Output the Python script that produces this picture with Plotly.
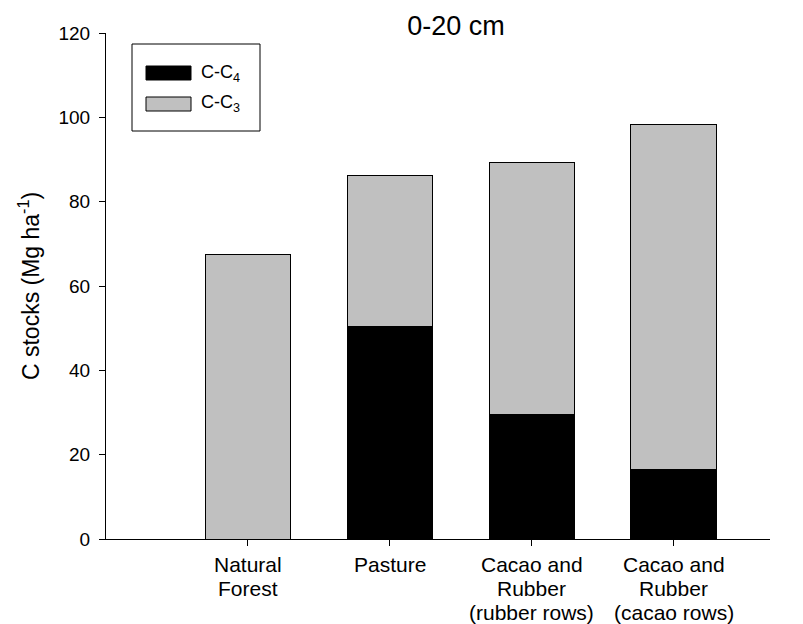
import plotly.graph_objects as go

categories = ["Natural<br>Forest", "Pasture", "Cacao and<br>Rubber<br>(rubber rows)", "Cacao and<br>Rubber<br>(cacao rows)"]
c4_values = [0.0, 50.5, 29.6, 16.4]
c3_values = [67.4, 35.6, 59.8, 81.8]
y_ticks = [0, 20, 40, 60, 80, 100, 120]

x_pos = list(range(len(categories)))
FONT = "Liberation Sans, Arial, sans-serif"

fig = go.Figure()
fig.add_trace(go.Bar(x=x_pos, y=c4_values, name="C-C<sub>4</sub>", marker=dict(color="black", line=dict(color="black", width=1)), width=0.6))
fig.add_trace(go.Bar(x=x_pos, y=c3_values, name="C-C<sub>3</sub>", marker=dict(color="#c0c0c0", line=dict(color="black", width=1)), width=0.6))

fig.update_layout(
    barmode="stack",
    width=803, height=624,
    margin=dict(l=106, r=33, t=33, b=85),
    plot_bgcolor="white", paper_bgcolor="white",
    showlegend=False,
    font=dict(family=FONT, size=19, color="black"),
    title=dict(text="0-20 cm", x=456/803, xanchor="center", y=1-26/624, yanchor="middle",
               font=dict(size=27, family=FONT, color="black")),
    xaxis=dict(range=[-1.0, 3.68], tickmode="array", tickvals=x_pos, showticklabels=False,
               showline=True, linecolor="black", linewidth=1, ticks="outside", ticklen=6,
               tickcolor="black", showgrid=False, zeroline=False, automargin=False),
    yaxis=dict(range=[0, 120], tickmode="array", tickvals=y_ticks, showline=True, linecolor="black",
               linewidth=1, ticks="outside", ticklen=6, tickcolor="black", showgrid=False, zeroline=False,
               tickfont=dict(size=19), ticklabelstandoff=5, automargin=False,
               title=dict(text="C stocks (Mg ha<sup>-1</sup>)", font=dict(size=23), standoff=12)),
)

def px_x(p):
    return (p - 106) / (770 - 106)

def px_y(p):
    return (539 - p) / (539 - 33)

# category labels, one annotation per line for tighter line spacing
line_centers = [564, 588, 612]
for xp, label in zip(x_pos, categories):
    for i, line in enumerate(label.split("<br>")):
        fig.add_annotation(xref="x", yref="paper", x=xp, y=px_y(line_centers[i]), text=line,
                           showarrow=False, xanchor="center", yanchor="middle",
                           font=dict(size=21, family=FONT, color="black"))

# custom legend box (paper coordinates)
fig.add_shape(type="rect", xref="paper", yref="paper", x0=px_x(132), x1=px_x(260), y0=px_y(131), y1=px_y(44),
              line=dict(color="black", width=1), fillcolor="white")
fig.add_shape(type="rect", xref="paper", yref="paper", x0=px_x(146), x1=px_x(191), y0=px_y(80), y1=px_y(66),
              line=dict(color="black", width=1), fillcolor="black")
fig.add_shape(type="rect", xref="paper", yref="paper", x0=px_x(146), x1=px_x(191), y0=px_y(111), y1=px_y(97),
              line=dict(color="black", width=1), fillcolor="#c0c0c0")
fig.add_annotation(xref="paper", yref="paper", x=px_x(199), y=px_y(73), text="C-C<sub>4</sub>", showarrow=False,
                   xanchor="left", yanchor="middle", font=dict(size=18, family=FONT, color="black"))
fig.add_annotation(xref="paper", yref="paper", x=px_x(199), y=px_y(104), text="C-C<sub>3</sub>", showarrow=False,
                   xanchor="left", yanchor="middle", font=dict(size=18, family=FONT, color="black"))

fig.write_html("out.html")
